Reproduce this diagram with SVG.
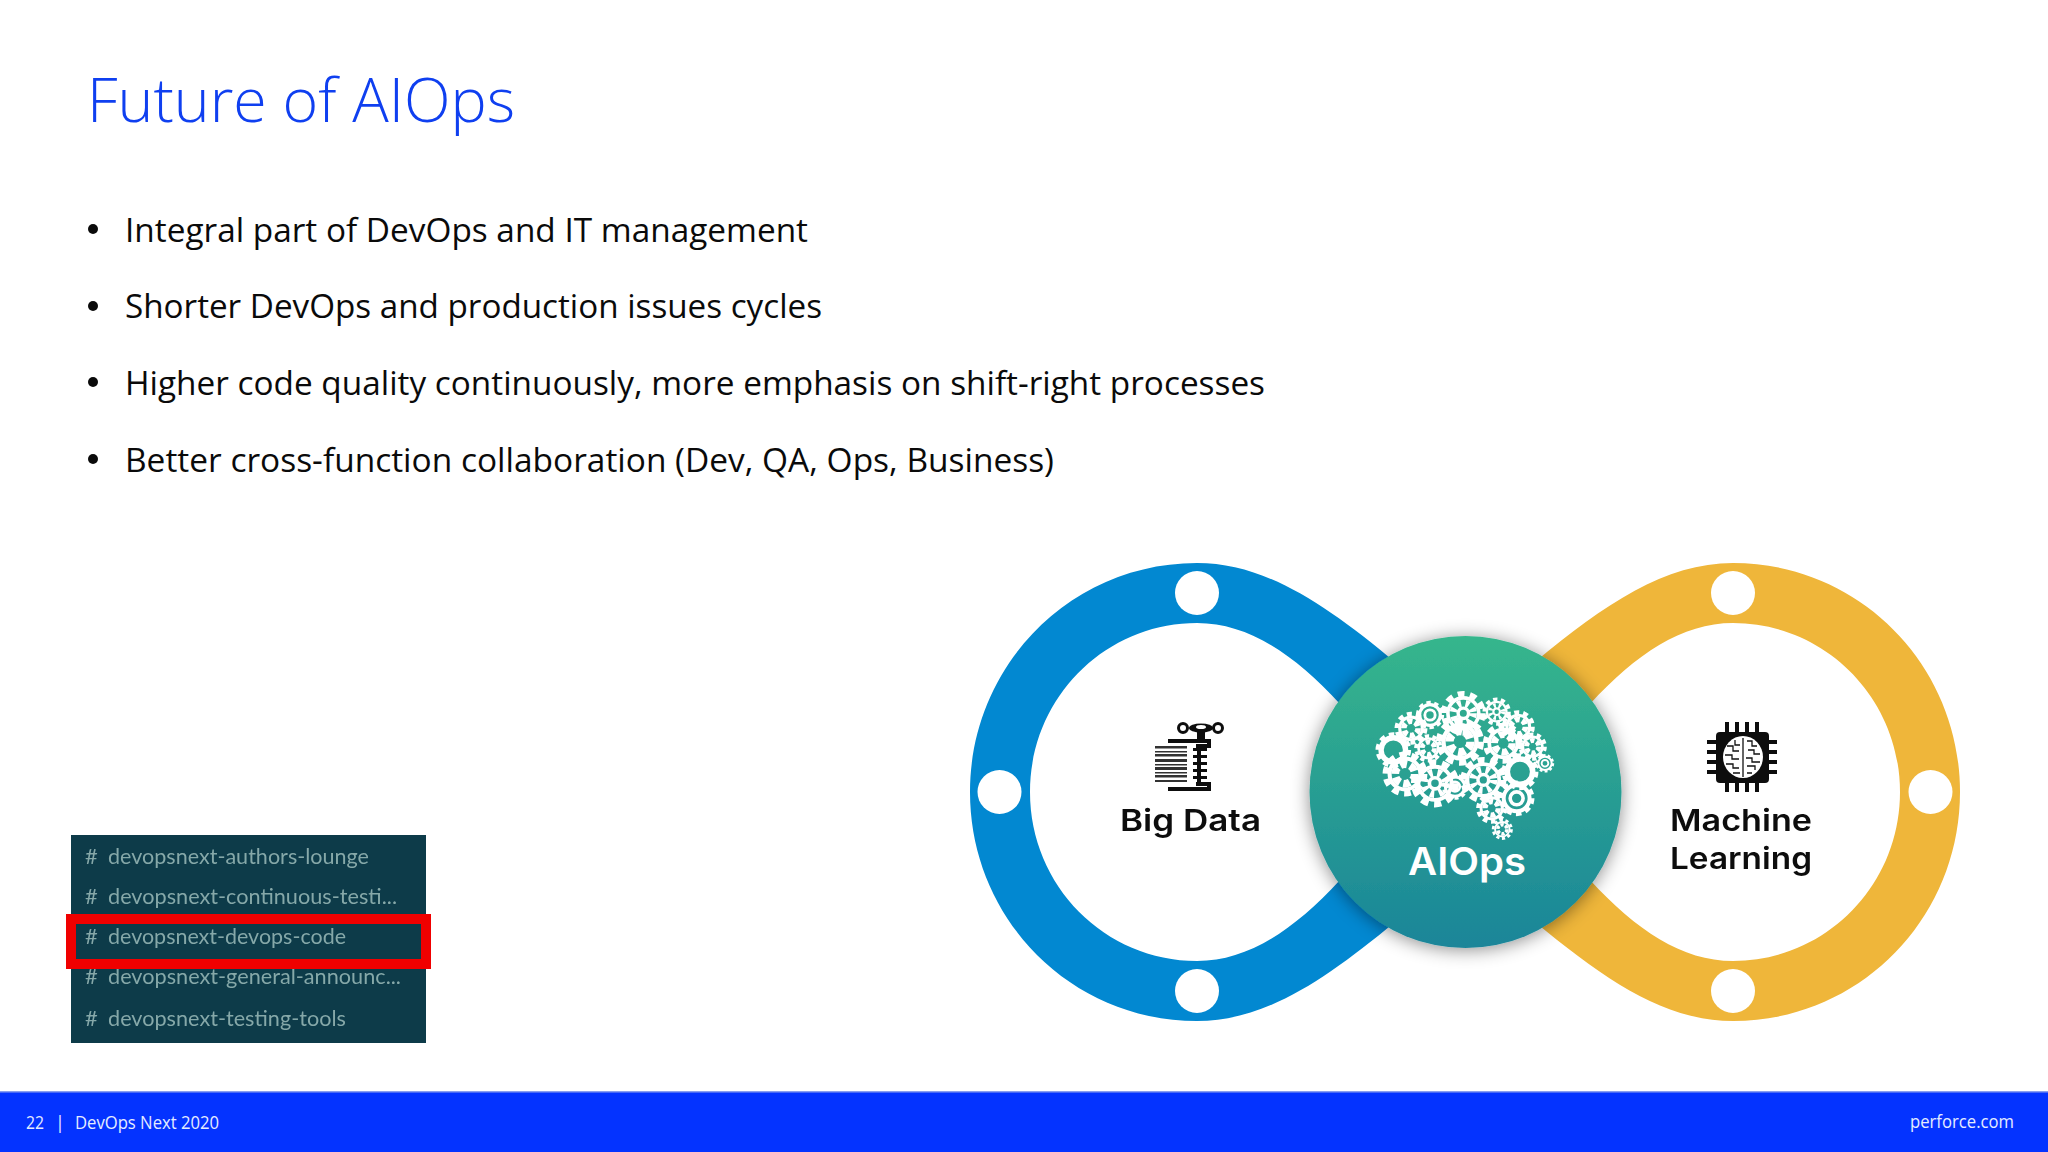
<svg xmlns="http://www.w3.org/2000/svg" xmlns:xlink="http://www.w3.org/1999/xlink" width="2048" height="1152" viewBox="0 0 2048 1152">
<style>
.body{font-family:"Open Sans","Noto Sans",sans-serif;font-size:33px;fill:#0a0a0a}
.title{font-family:"Open Sans","Noto Sans",sans-serif;font-weight:300;font-size:60px;fill:#0f3ff0}
.foot{font-family:"Open Sans","Noto Sans",sans-serif;font-size:18px;fill:#e4ecff}
.ch{font-family:Lato,"Open Sans",sans-serif;font-size:22px;fill:#86a8a8}
.lab{font-family:Inter,"Liberation Sans",sans-serif;font-weight:600;font-size:30px;fill:#111}
.dot{fill:#fff}
.w{fill:none;stroke:#fff}
</style>
<defs>
<linearGradient id="hub" x1="0" y1="0" x2="0" y2="1"><stop offset="0" stop-color="#36b68c"/><stop offset="1" stop-color="#1a8599"/></linearGradient>
<filter id="shadow" x="-20%" y="-20%" width="140%" height="140%"><feDropShadow dx="0" dy="2" stdDeviation="9" flood-color="#000" flood-opacity=".45"/></filter>
<filter id="soft"><feGaussianBlur stdDeviation=".6"/></filter>
<g id="teeth"><circle class="w" r="8.600" stroke-width="2.600" stroke-dasharray="3 2.400"/></g>
<g id="gearS"><use href="#teeth"/><circle class="w" r="6.800" stroke-width="1.600"/><circle class="w" r="4.400" stroke-width="3.200" stroke-dasharray="1.600 2"/><circle class="w" r="2.300" stroke-width="1.500"/></g>
<g id="gearA"><use href="#teeth"/><circle class="w" r="6.800" stroke-width="1.800"/><circle class="w" r="4.300" stroke-width="3.400" stroke-dasharray="3 1.500"/></g>
<g id="gearO"><use href="#teeth"/><circle class="w" r="6.800" stroke-width="3"/></g>
<g id="gearR"><use href="#teeth"/><circle class="w" r="7.200" stroke-width="2.200"/><circle class="w" r="3.600" stroke-width="2"/></g>
</defs>
<rect width="2048" height="1152" fill="#fff"/>
<text class="title" x="87" y="122" textLength="428" lengthAdjust="spacingAndGlyphs">Future of AIOps</text>
<g id="bullets">
<circle cx="93" cy="229" r="5" fill="#0a0a0a"/><text class="body" x="125" y="242" textLength="683" lengthAdjust="spacingAndGlyphs">Integral part of DevOps and IT management</text>
<circle cx="93" cy="306" r="5" fill="#0a0a0a"/><text class="body" x="125" y="318" textLength="697" lengthAdjust="spacingAndGlyphs">Shorter DevOps and production issues cycles</text>
<circle cx="93" cy="382" r="5" fill="#0a0a0a"/><text class="body" x="125" y="395" textLength="1140" lengthAdjust="spacingAndGlyphs">Higher code quality continuously, more emphasis on shift-right processes</text>
<circle cx="93" cy="459" r="5" fill="#0a0a0a"/><text class="body" x="125" y="472" textLength="929" lengthAdjust="spacingAndGlyphs">Better cross-function collaboration (Dev, QA, Ops, Business)</text>
</g>
<g id="channels" filter="url(#soft)">
<rect x="71" y="835" width="355" height="208" fill="#0b3a4a"/>
<text class="ch" x="85" y="864">#</text><text class="ch" x="108" y="864" textLength="261" lengthAdjust="spacingAndGlyphs">devopsnext-authors-lounge</text>
<text class="ch" x="85" y="904">#</text><text class="ch" x="108" y="904" textLength="289" lengthAdjust="spacingAndGlyphs">devopsnext-continuous-testi...</text>
<text class="ch" x="85" y="944">#</text><text class="ch" x="108" y="944" textLength="238" lengthAdjust="spacingAndGlyphs">devopsnext-devops-code</text>
<text class="ch" x="85" y="984">#</text><text class="ch" x="108" y="984" textLength="293" lengthAdjust="spacingAndGlyphs">devopsnext-general-announc...</text>
<text class="ch" x="85" y="1026">#</text><text class="ch" x="108" y="1026" textLength="238" lengthAdjust="spacingAndGlyphs">devopsnext-testing-tools</text>
<rect x="71" y="919" width="355" height="45" fill="none" stroke="#f00000" stroke-width="10"/>
</g>
<g id="connectors"></g>
<g id="big-data-ring">
<path fill="#0288d1" fill-rule="evenodd" d="M1197 563C1071 563 970 665 970 792C970 919 1071 1021 1197 1021C1265 1021 1325 980 1395 922L1470 792L1395 662C1325 604 1265 563 1197 563ZM1197 623C1105 623 1030 698 1030 792C1030 886 1105 961 1197 961C1248 961 1294 930 1340 880L1380 792L1340 704C1294 654 1248 623 1197 623Z"/>
<circle class="dot" cx="1197" cy="593" r="22"/><circle class="dot" cx="999.500" cy="792" r="22"/><circle class="dot" cx="1197" cy="991" r="22"/>
</g>
<g id="machine-learning-ring">
<path fill="#efb63a" fill-rule="evenodd" d="M1733 563C1859 563 1960 665 1960 792C1960 919 1859 1021 1733 1021C1665 1021 1605 980 1535 922L1460 792L1535 662C1605 604 1665 563 1733 563ZM1733 623C1825 623 1900 698 1900 792C1900 886 1825 961 1733 961C1682 961 1636 930 1590 880L1550 792L1590 704C1636 654 1682 623 1733 623Z"/>
<circle class="dot" cx="1733" cy="593" r="22"/><circle class="dot" cx="1930.500" cy="792" r="22"/><circle class="dot" cx="1733" cy="991" r="22"/>
</g>
<g id="big-data" filter="url(#soft)">
<g fill="none" stroke="#111">
<circle cx="1183" cy="728" r="4.500" stroke-width="3"/><circle cx="1218" cy="728" r="4.500" stroke-width="3"/>
</g>
<ellipse cx="1201" cy="728" rx="12" ry="4.500" fill="#111"/>
<ellipse cx="1201" cy="727" rx="5" ry="2" fill="#fff"/>
<rect x="1197" y="732" width="8" height="7" fill="#111"/>
<path fill="none" stroke="#111" stroke-width="4" d="M1168 741H1209V746H1196"/>
<path fill="none" stroke="#111" stroke-width="4" d="M1168 789H1209V784H1196"/>
<rect x="1197" y="746" width="4" height="38" fill="#111"/>
<g fill="#111"><rect x="1193" y="748" width="14" height="3"/><rect x="1193" y="755" width="14" height="3"/><rect x="1193" y="762" width="14" height="3"/><rect x="1193" y="769" width="14" height="3"/><rect x="1193" y="776" width="14" height="3"/></g>
<g fill="#333"><rect x="1155" y="746" width="32" height="2.500"/><rect x="1155" y="751" width="32" height="1.500"/><rect x="1155" y="754" width="32" height="2.500"/><rect x="1155" y="759" width="32" height="3"/><rect x="1155" y="764" width="32" height="1.500"/><rect x="1155" y="767" width="32" height="3"/><rect x="1155" y="772" width="32" height="1.500"/><rect x="1155" y="775" width="32" height="2.500"/><rect x="1155" y="780" width="32" height="2"/></g>
<text class="lab" x="1120" y="831" textLength="141" lengthAdjust="spacingAndGlyphs">Big Data</text>
</g>
<g id="machine-learning" filter="url(#soft)">
<rect x="1716" y="732" width="53" height="51" rx="4" fill="#0a0a0a"/>
<path stroke="#0a0a0a" stroke-width="4" fill="none" d="M1727 722V732M1737 722V732M1747 722V732M1757 722V732M1727 783V792M1737 783V792M1747 783V792M1757 783V792M1707 742H1716M1707 752H1716M1707 762H1716M1707 772H1716M1769 742H1777M1769 752H1777M1769 762H1777M1769 772H1777"/>
<ellipse cx="1743" cy="757" rx="20" ry="21" fill="#fff"/>
<path stroke="#111" stroke-width="1.300" fill="none" d="M1743 738V777M1735 740V745H1740M1727 746H1733V751H1739M1747 741H1752V746H1757M1748 750H1754V754H1760M1725 755H1732V759H1739M1746 758H1752V762H1760M1726 764H1733V768H1739M1747 766H1755V770M1733 773H1740M1747 773H1752"/>
<text class="lab" x="1670" y="831" textLength="142" lengthAdjust="spacingAndGlyphs">Machine</text>
<text class="lab" x="1670" y="869" textLength="142" lengthAdjust="spacingAndGlyphs">Learning</text>
</g>
<g id="aiops">
<circle cx="1465.500" cy="792" r="156" fill="url(#hub)" filter="url(#shadow)"/>
<g id="brain" transform="translate(1340 670) scale(.3333)">
<use href="#gearA" transform="translate(213 175) scale(5)"/>
<use href="#gearR" transform="translate(270 135) scale(4.300)"/>
<use href="#gearS" transform="translate(370 130) scale(6.800)"/>
<use href="#gearS" transform="translate(470 125) scale(4.300)"/>
<use href="#gearA" transform="translate(535 170) scale(5)"/>
<use href="#gearO" transform="translate(160 240) scale(5.400)"/>
<use href="#gearA" transform="translate(265 235) scale(4.300)"/>
<use href="#gearA" transform="translate(360 215) scale(7.300)"/>
<use href="#gearA" transform="translate(490 220) scale(6.200)"/>
<use href="#gearA" transform="translate(578 230) scale(4.300)"/>
<use href="#gearR" transform="translate(615 280) scale(2.800)"/>
<use href="#gearA" transform="translate(195 312) scale(6.800)"/>
<use href="#gearS" transform="translate(285 340) scale(7.300)"/>
<use href="#gearR" transform="translate(345 350) scale(4)"/>
<use href="#gearS" transform="translate(430 330) scale(7)"/>
<use href="#gearO" transform="translate(540 305) scale(5.600)"/>
<use href="#gearR" transform="translate(530 385) scale(5.400)"/>
<use href="#gearA" transform="translate(455 415) scale(4.700)"/>
<use href="#gearA" transform="translate(487 478) scale(3.200)"/>
</g>
<text x="1408" y="875" font-family="Inter,'Liberation Sans',sans-serif" font-weight="600" font-size="38" fill="#fff" textLength="118" lengthAdjust="spacingAndGlyphs">AIOps</text>
</g>
<g id="footer">
<rect y="1092" width="2048" height="60" fill="#0433ff"/>
<rect y="1091" width="2048" height="1.500" fill="#8aa0ee"/>
<text class="foot" x="26" y="1129" textLength="18" lengthAdjust="spacingAndGlyphs">22</text>
<text class="foot" x="55" y="1129">|</text>
<text class="foot" x="75" y="1129" textLength="144" lengthAdjust="spacingAndGlyphs">DevOps Next 2020</text>
<text class="foot" x="1910" y="1128" textLength="104" lengthAdjust="spacingAndGlyphs">perforce.com</text>
</g>
</svg>
